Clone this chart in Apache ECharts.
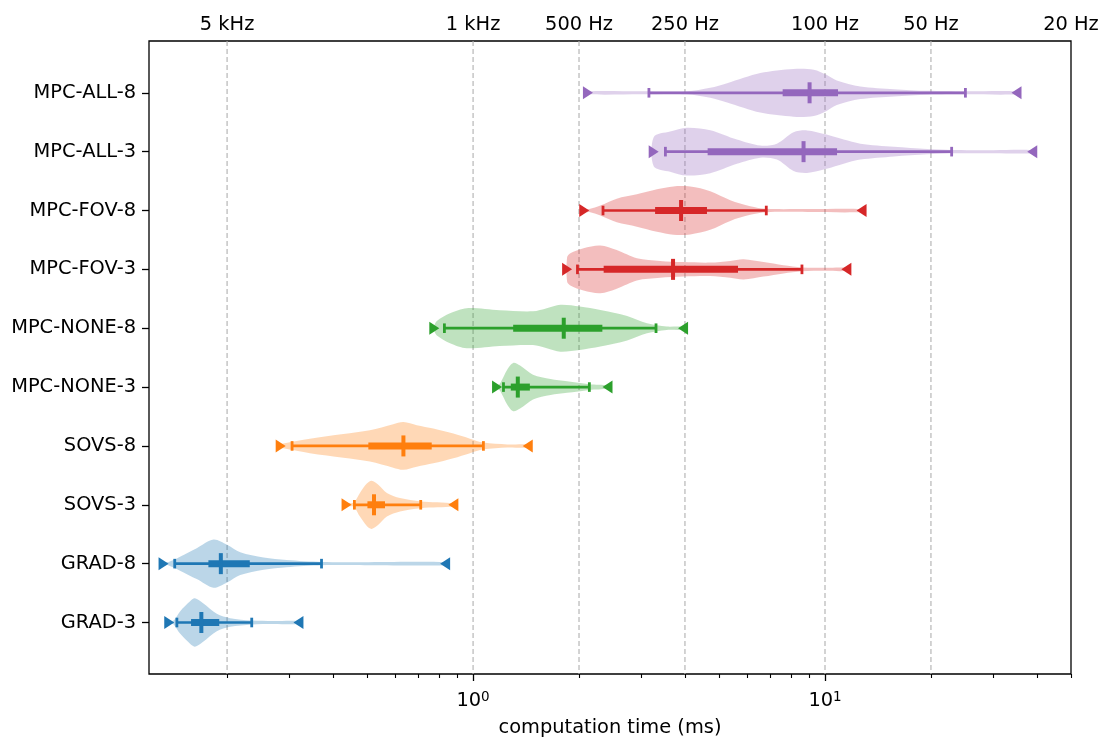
<!DOCTYPE html>
<html><head><meta charset="utf-8">
<script src="https://cdn.jsdelivr.net/npm/echarts@6/dist/echarts.min.js"></script>
<style>html,body{margin:0;padding:0;background:#fff}#c{width:1104px;height:738px}</style>
</head><body><div id="c"></div>
<script>
// ---- data (computation time in ms), rows from bottom to top ----
const categories = ['GRAD-3','GRAD-8','SOVS-3','SOVS-8','MPC-NONE-3','MPC-NONE-8','MPC-FOV-3','MPC-FOV-8','MPC-ALL-3','MPC-ALL-8'];
const minTime     = [0.137, 0.132, 0.437, 0.284, 1.17, 0.776, 1.85, 2.07, 3.26, 2.12];
const whiskerLow  = [0.144, 0.142, 0.460, 0.306, 1.22, 0.829, 1.98, 2.34, 3.52, 3.16];
const q1          = [0.158, 0.177, 0.501, 0.504, 1.28, 1.30, 2.35, 3.29, 4.64, 7.58];
const median      = [0.169, 0.192, 0.523, 0.634, 1.34, 1.81, 3.70, 3.90, 8.69, 9.04];
const q3          = [0.190, 0.232, 0.562, 0.763, 1.45, 2.33, 5.66, 4.62, 10.82, 10.89];
const whiskerHigh = [0.235, 0.371, 0.710, 1.07, 2.14, 3.31, 8.60, 6.81, 22.9, 25.06];
const maxTime     = [0.319, 0.833, 0.879, 1.43, 2.41, 3.95, 11.5, 12.7, 38.8, 35.0];

// violin outline: sample times and relative density (1 = widest)
const violinTimes = [
  [0.137, 0.141, 0.147, 0.157, 0.162, 0.171, 0.187, 0.204, 0.235, 0.27, 0.319],
  [0.132, 0.136, 0.147, 0.164, 0.183, 0.200, 0.218, 0.254, 0.295, 0.371, 0.5, 0.833],
  [0.437, 0.452, 0.460, 0.477, 0.499, 0.515, 0.538, 0.569, 0.620, 0.710, 0.879],
  [0.284, 0.289, 0.344, 0.428, 0.509, 0.593, 0.634, 0.692, 0.771, 0.879, 0.98, 1.07, 1.25, 1.43],
  [1.17, 1.19, 1.22, 1.25, 1.30, 1.36, 1.48, 1.66, 1.85, 2.14, 2.41],
  [0.776, 0.789, 0.860, 0.959, 1.19, 1.48, 1.62, 1.77, 2.01, 2.30, 2.74, 3.12, 3.55, 3.95],
  [1.85, 1.89, 2.06, 2.30, 2.56, 2.92, 3.40, 3.96, 4.72, 5.38, 5.87, 6.69, 7.62, 8.60, 10.0, 11.5],
  [2.07, 2.14, 2.30, 2.56, 2.92, 3.33, 3.71, 4.14, 4.72, 5.38, 6.13, 6.81, 9.0, 12.7],
  [3.26, 3.63, 4.05, 4.72, 5.62, 6.55, 7.30, 8.14, 8.89, 10.1, 11.3, 12.6, 15.7, 19.5, 22.9, 30.0, 38.8],
  [2.12, 3.0, 4.05, 4.72, 5.27, 6.55, 8.14, 9.29, 10.1, 10.8, 12.6, 15.7, 19.5, 25.0, 35.0]
];
const violinDensity = [
  [0.02, 0.08, 0.46, 0.88, 1.0, 0.80, 0.36, 0.18, 0.08, 0.04, 0.02],
  [0.02, 0.05, 0.29, 0.64, 1.0, 0.78, 0.47, 0.25, 0.15, 0.07, 0.04, 0.02],
  [0.02, 0.05, 0.10, 0.49, 0.88, 1.0, 0.83, 0.49, 0.28, 0.14, 0.03],
  [0.03, 0.10, 0.30, 0.49, 0.65, 0.90, 0.99, 0.86, 0.72, 0.51, 0.30, 0.14, 0.05, 0.02],
  [0.03, 0.13, 0.42, 0.72, 1.0, 0.89, 0.51, 0.33, 0.24, 0.12, 0.03],
  [0.10, 0.30, 0.62, 0.83, 0.74, 0.70, 0.83, 0.97, 0.90, 0.76, 0.51, 0.21, 0.07, 0.02],
  [0.50, 0.67, 0.88, 0.99, 0.80, 0.46, 0.35, 0.30, 0.28, 0.35, 0.42, 0.30, 0.17, 0.08, 0.04, 0.02],
  [0.02, 0.05, 0.21, 0.49, 0.67, 0.88, 1.0, 0.99, 0.80, 0.43, 0.18, 0.07, 0.04, 0.02],
  [0.60, 0.83, 0.99, 0.89, 0.50, 0.25, 0.33, 0.80, 0.88, 0.71, 0.50, 0.33, 0.20, 0.11, 0.07, 0.04, 0.02],
  [0.02, 0.03, 0.05, 0.21, 0.40, 0.82, 0.99, 0.96, 0.75, 0.51, 0.26, 0.15, 0.08, 0.04, 0.02]
];

// top axis: update rate labels at their period (ms)
const freqPeriods = [0.2, 1, 2, 4, 10, 20, 50];
const freqLabels  = ['5 kHz', '1 kHz', '500 Hz', '250 Hz', '100 Hz', '50 Hz', '20 Hz'];
const gridPeriods = [0.2, 1, 2, 4, 10, 20];
const majorTicks  = [1, 10];
const minorTicks  = [0.2,0.3,0.4,0.5,0.6,0.7,0.8,0.9,2,3,4,5,6,7,8,9,20,30,40,50];

// ---- style ----
const rowColors = ['#1f77b4','#1f77b4','#ff7f0e','#ff7f0e','#2ca02c','#2ca02c','#d62728','#d62728','#9467bd','#9467bd'];
const FONT = 'DejaVu Sans';
const FS = 19.4;
function rgba(hex, a) {
  const n = parseInt(hex.slice(1), 16);
  return `rgba(${(n>>16)&255},${(n>>8)&255},${n&255},${a})`;
}
const X_MIN = 0.12, X_MAX = 50;
const HALF_W = 0.41;     // half violin width (y units) at density 1
const MIN_HALF_PX = 1.5; // thinnest drawn tail

function renderRow(params, api) {
  const i = api.value(1);
  const c = rowColors[i], lc = rgba(c, 0.3);
  const y = api.coord([1, i])[1];
  const unit = Math.abs(api.coord([1, i + 1])[1] - y);
  const top = [], bot = [];
  violinTimes[i].forEach((t, k) => {
    const x = api.coord([t, i])[0];
    const h = Math.max(violinDensity[i][k] * HALF_W * unit, MIN_HALF_PX);
    top.push([x, y - h]);
    bot.push([x, y + h]);
  });
  const pts = top.concat(bot.reverse());
  const X = v => api.coord([v, i])[0];
  const xm = X(minTime[i]), xM = X(maxTime[i]);
  const cap = v => ({type: 'rect', shape: {x: X(v) - 1.4, y: y - 4.8, width: 2.8, height: 9.6}, style: {fill: c}});
  return {
    type: 'group',
    children: [
      {type: 'polygon', shape: {points: pts, smooth: 0.3}, style: {fill: lc}},
      {type: 'line', shape: {x1: X(whiskerLow[i]), y1: y, x2: X(whiskerHigh[i]), y2: y}, style: {stroke: c, lineWidth: 2.7}},
      {type: 'rect', shape: {x: X(q1[i]), y: y - 3.5, width: X(q3[i]) - X(q1[i]), height: 7}, style: {fill: c}},
      cap(whiskerLow[i]), cap(whiskerHigh[i]),
      {type: 'rect', shape: {x: X(median[i]) - 2, y: y - 10.5, width: 4, height: 21}, style: {fill: c}},
      {type: 'polygon', shape: {points: [[xm - 5, y - 6.5], [xm - 5, y + 6.5], [xm + 5, y]]}, style: {fill: c}},
      {type: 'polygon', shape: {points: [[xM + 5, y - 6.5], [xM + 5, y + 6.5], [xM - 5, y]]}, style: {fill: c}}
    ]
  };
}

function renderGrid(params, api) {
  const cs = params.coordSys;
  const x = api.coord([api.value(0), 0])[0];
  return {type: 'line', shape: {x1: x, y1: cs.y, x2: x, y2: cs.y + cs.height},
          style: {stroke: '#b0b0b0', lineWidth: 1.1, lineDash: [5, 3]}};
}

const chart = echarts.init(document.getElementById('c'), null, {renderer: 'canvas'});
chart.setOption({
  animation: false,
  backgroundColor: '#fff',
  grid: {left: 149, right: 33, top: 41, bottom: 64, containLabel: false, outerBoundsMode: 'none',
         show: true, borderColor: '#000', borderWidth: 1.3, backgroundColor: 'transparent'},
  xAxis: [
    {
      type: 'log', logBase: 10, min: X_MIN, max: X_MAX, position: 'bottom',
      axisLine: {show: false, onZero: false},
      axisTick: {customValues: majorTicks, length: 7, lineStyle: {color: '#000', width: 1.3}},
      axisLabel: {
        customValues: majorTicks, margin: 16, color: '#000', fontFamily: FONT,
        formatter: v => `{b|10}{s|${Math.round(Math.log10(v))}}`,
        rich: {
          b: {fontSize: FS, fontFamily: FONT, color: '#000', lineHeight: 22},
          s: {fontSize: 13.5, fontFamily: FONT, color: '#000', verticalAlign: 'top', lineHeight: 14}
        }
      },
      splitLine: {show: false}, minorTick: {show: false},
      name: 'computation time (ms)', nameLocation: 'middle', nameGap: 44,
      nameTextStyle: {fontSize: FS, fontFamily: FONT, color: '#000'}
    },
    {
      type: 'log', logBase: 10, min: X_MIN, max: X_MAX, position: 'bottom',
      axisLine: {show: false, onZero: false},
      axisTick: {customValues: minorTicks, length: 4, lineStyle: {color: '#000', width: 1.1}},
      axisLabel: {show: false}, splitLine: {show: false}
    },
    {
      type: 'log', logBase: 10, min: X_MIN, max: X_MAX, position: 'top',
      axisLine: {show: false, onZero: false}, axisTick: {show: false},
      axisLabel: {
        customValues: freqPeriods, margin: 7, color: '#000', fontSize: FS, fontFamily: FONT,
        formatter: v => {
          let best = 0;
          freqPeriods.forEach((p, k) => { if (Math.abs(Math.log(p / v)) < Math.abs(Math.log(freqPeriods[best] / v))) best = k; });
          return freqLabels[best];
        }
      },
      splitLine: {show: false}
    }
  ],
  yAxis: {
    type: 'value', min: -0.875, max: 9.88,
    axisLine: {show: false, onZero: false},
    axisTick: {customValues: categories.map((_, i) => i), length: 7, lineStyle: {color: '#000', width: 1.3}},
    axisLabel: {customValues: categories.map((_, i) => i), margin: 13, color: '#000', fontSize: FS, fontFamily: FONT,
                formatter: v => categories[Math.round(v)]},
    splitLine: {show: false}
  },
  series: [
    {type: 'custom', name: 'grid', xAxisIndex: 0, yAxisIndex: 0, z: 1, silent: true,
     encode: {x: 0, y: 1}, data: gridPeriods.map(p => [p, 0]), renderItem: renderGrid},
    {type: 'custom', name: 'violins', xAxisIndex: 0, yAxisIndex: 0, z: 2,
     encode: {x: 0, y: 1}, data: categories.map((_, i) => [median[i], i]), renderItem: renderRow}
  ]
});
</script></body></html>
